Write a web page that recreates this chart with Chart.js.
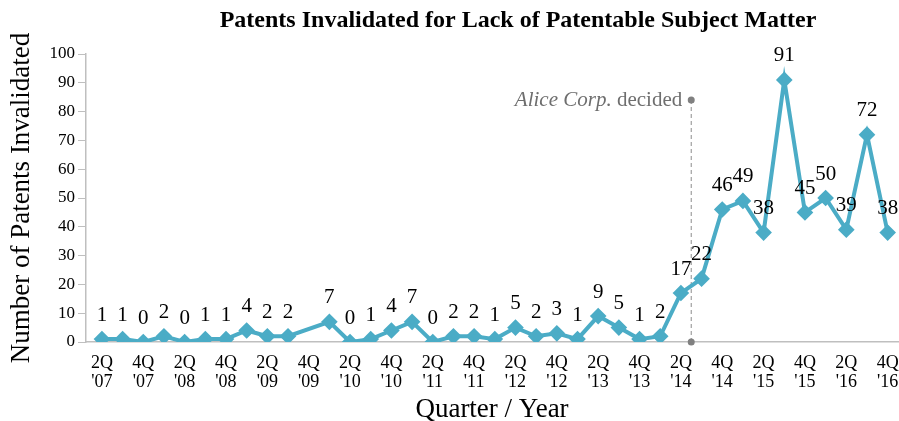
<!DOCTYPE html>
<html>
<head>
<meta charset="utf-8">
<script src="https://cdn.jsdelivr.net/npm/chart.js@4/dist/chart.umd.min.js"></script>
<style>
  html, body { margin: 0; padding: 0; background: #fff; }
  #wrap { width: 899px; height: 421px; }
</style>
</head>
<body>
<div id="wrap"><canvas id="chart" width="899" height="421"></canvas></div>
<script>
const quarters = [
  "2Q '07", "3Q '07", "4Q '07",
  "1Q '08", "2Q '08", "3Q '08", "4Q '08",
  "1Q '09", "2Q '09", "3Q '09", "4Q '09",
  "1Q '10", "2Q '10", "3Q '10", "4Q '10",
  "1Q '11", "2Q '11", "3Q '11", "4Q '11",
  "1Q '12", "2Q '12", "3Q '12", "4Q '12",
  "1Q '13", "2Q '13", "3Q '13", "4Q '13",
  "1Q '14", "2Q '14", "3Q '14", "4Q '14",
  "1Q '15", "2Q '15", "3Q '15", "4Q '15",
  "1Q '16", "2Q '16", "3Q '16", "4Q '16",
];
const invalidated = [
  1, 1, 0,
  2, 0, 1, 1,
  4, 2, 2, null,
  7, 0, 1, 4,
  7, 0, 2, 2,
  1, 5, 2, 3,
  1, 9, 5, 1,
  2, 17, 22, 46,
  49, 38, 91, 45,
  50, 39, 72, 38,
];
const yTicks = [0, 10, 20, 30, 40, 50, 60, 70, 80, 90, 100];

const chartTitle = 'Patents Invalidated for Lack of Patentable Subject Matter';

// Alice Corp. decision sits between 2Q '14 and 3Q '14
const aliceBetween = ["2Q '14", "3Q '14"];
const aliceTopValue = 84;

// room left and right of the first and last quarter
const xMin = -0.77;
const xMax = 38.5;

const serif = '"Liberation Serif", "Times New Roman", serif';
const lineColor = '#4bacc6';

const points = quarters.map((q, i) => ({ x: i, y: invalidated[i] }));

// title sits a bit right of the canvas centre, as in the original
const titleDraw = {
  id: 'titleDraw',
  afterDraw(chart) {
    const { ctx } = chart;
    ctx.save();
    ctx.font = `bold 24px ${serif}`;
    ctx.fillStyle = '#000';
    ctx.textAlign = 'center';
    ctx.textBaseline = 'middle';
    ctx.fillText(chartTitle, 518, 21);
    ctx.restore();
  },
};

const valueLabels = {
  id: 'valueLabels',
  afterDatasetsDraw(chart) {
    const { ctx } = chart;
    const meta = chart.getDatasetMeta(0);
    ctx.save();
    ctx.font = `21px ${serif}`;
    ctx.fillStyle = '#000';
    ctx.textAlign = 'center';
    ctx.textBaseline = 'middle';
    meta.data.forEach((pt, i) => {
      const v = invalidated[i];
      if (v === null) return;
      ctx.fillText(String(v), pt.x, pt.y - 24);
    });
    ctx.restore();
  },
};

const aliceMarker = {
  id: 'aliceMarker',
  beforeDatasetsDraw(chart) {
    const { ctx, scales } = chart;
    const x = (scales.x.getPixelForValue(quarters.indexOf(aliceBetween[0]))
      + scales.x.getPixelForValue(quarters.indexOf(aliceBetween[1]))) / 2;
    const yTop = scales.y.getPixelForValue(aliceTopValue);
    const yBot = scales.y.getPixelForValue(0);
    ctx.save();
    ctx.strokeStyle = '#8c8c8c';
    ctx.lineWidth = 1;
    ctx.setLineDash([4, 3]);
    ctx.beginPath();
    ctx.moveTo(x, yBot);
    ctx.lineTo(x, yTop);
    ctx.stroke();
    ctx.setLineDash([]);
    ctx.fillStyle = '#808080';
    [yTop, yBot].forEach((y) => {
      ctx.beginPath();
      ctx.arc(x, y, 3.5, 0, Math.PI * 2);
      ctx.fill();
    });
    ctx.textBaseline = 'middle';
    ctx.textAlign = 'left';
    ctx.fillStyle = '#6e6e6e';
    const italic = `italic 21px ${serif}`;
    const normal = `21px ${serif}`;
    ctx.font = normal;
    const w2 = ctx.measureText(' decided').width;
    ctx.font = italic;
    const w1 = ctx.measureText('Alice Corp.').width;
    const x0 = x - 9 - w1 - w2;
    ctx.fillText('Alice Corp.', x0, yTop);
    ctx.font = normal;
    ctx.fillText(' decided', x0 + w1, yTop);
    ctx.restore();
  },
};

new Chart(document.getElementById('chart'), {
  type: 'line',
  data: {
    datasets: [
      {
        data: points,
        borderColor: lineColor,
        backgroundColor: lineColor,
        borderWidth: 4,
        pointStyle: 'rectRot',
        pointRadius: 5.5,
        pointHoverRadius: 5.5,
        spanGaps: true,
        tension: 0,
      },
    ],
  },
  options: {
    responsive: false,
    animation: false,
    layout: { autoPadding: false, padding: { left: 0, right: 1, top: 54, bottom: 0 } },
    plugins: {
      legend: { display: false },
      tooltip: { enabled: false },
      title: { display: false },
    },
    scales: {
      x: {
        type: 'linear',
        bounds: 'data',
        min: xMin,
        max: xMax,
        afterBuildTicks(scale) {
          scale.ticks = quarters
            .map((q, i) => ({ value: i }))
            .filter((t) => t.value % 2 === 0);
        },
        afterFit(scale) {
          scale.height = 79;
        },
        // invisible tick marks only push the labels down
        grid: { drawOnChartArea: false, drawTicks: true, tickLength: 11, color: 'rgba(0,0,0,0)' },
        border: { display: true, color: '#bfbfbf', width: 1.5 },
        ticks: {
          autoSkip: false,
          maxRotation: 0,
          padding: 0,
          color: '#000',
          font: { family: serif, size: 18, lineHeight: 1.1 },
          callback(value) {
            const q = quarters[value];
            return q ? q.split(' ') : '';
          },
        },
        title: {
          display: true,
          text: 'Quarter / Year',
          color: '#000',
          font: { family: serif, size: 27 },
          padding: { top: 0, bottom: -5 },
        },
      },
      y: {
        min: 0,
        max: 100,
        afterBuildTicks(scale) {
          scale.ticks = yTicks.map((v) => ({ value: v }));
        },
        afterFit(scale) {
          scale.width = 86;
        },
        grid: { drawOnChartArea: false, drawTicks: true, tickLength: 8, color: '#bfbfbf' },
        border: { display: true, color: '#bfbfbf', width: 1.5 },
        ticks: {
          padding: 3,
          color: '#000',
          font: { family: serif, size: 17 },
        },
        title: {
          display: true,
          text: 'Number of Patents Invalidated',
          color: '#000',
          font: { family: serif, size: 27 },
          padding: { top: 5.6, bottom: 0 },
        },
      },
    },
  },
  plugins: [aliceMarker, valueLabels, titleDraw],
});
</script>
</body>
</html>
